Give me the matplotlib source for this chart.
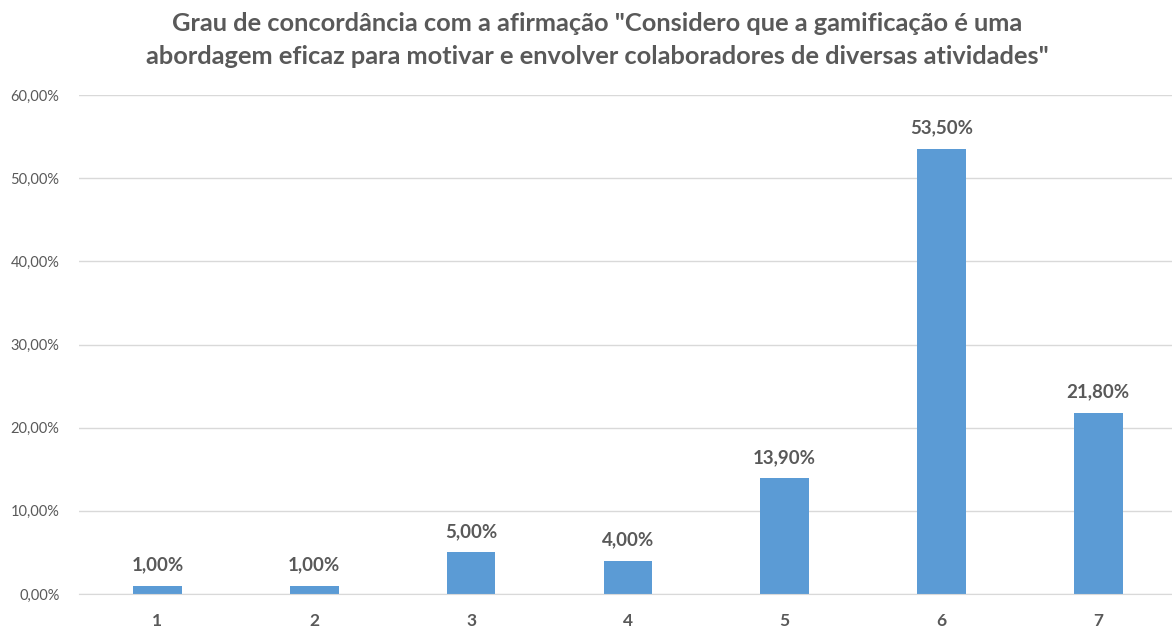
import matplotlib
matplotlib.use("Agg")
import matplotlib.pyplot as plt
from matplotlib.ticker import FuncFormatter

categories = ["1", "2", "3", "4", "5", "6", "7"]
values = [1.00, 1.00, 5.00, 4.00, 13.90, 53.50, 21.80]
y_ticks = [0, 10, 20, 30, 40, 50, 60]
title = ('Grau de concordância com a afirmação "Considero que a gamificação é uma\n'
         'abordagem eficaz para motivar e envolver colaboradores de diversas atividades"')

BAR = "#5B9BD5"
TXT = "#595959"
GRID = "#D9D9D9"
FONT = ["Lato", "DejaVu Sans"]

plt.rcParams["font.family"] = FONT

fig = plt.figure(figsize=(11.72, 6.28), dpi=100)
ax = fig.add_axes([79 / 1172, 1 - 594 / 628, (1172 - 79) / 1172, (594 - 95) / 628])

x = list(range(1, len(categories) + 1))
ax.bar(x, values, width=0.31, color=BAR, zorder=3)

for xi, v in zip(x, values):
    ax.annotate(f"{v:.2f}%".replace(".", ","), (xi, v), xytext=(0, 9),
                textcoords="offset points", ha="center", va="bottom",
                fontsize=13.5, fontweight="bold", color=TXT)

ax.set_xlim(0.5, 7.5 - 0.03)
ax.set_ylim(0, 60)
ax.set_xticks(x)
ax.set_xticklabels(categories, fontsize=12.5, fontweight="bold", color=TXT)
ax.set_yticks(y_ticks)
ax.yaxis.set_major_formatter(FuncFormatter(lambda v, p: f"{v:.2f}%".replace(".", ",")))
ax.tick_params(axis="y", labelsize=10.5, colors=TXT, length=0, pad=14)
ax.tick_params(axis="x", length=0, pad=14)
ax.grid(axis="y", color=GRID, linewidth=1, zorder=0)
for s in ["top", "right", "left"]:
    ax.spines[s].set_visible(False)
ax.spines["bottom"].set_color(GRID)
ax.spines["bottom"].set_zorder(4)

fig.text(597 / 1172, 1 - 40 / 628, title, ha="center", va="center",
         fontsize=18.3, fontweight="bold", color=TXT, linespacing=1.5)

fig.savefig("out.png", dpi=100, facecolor="white")
